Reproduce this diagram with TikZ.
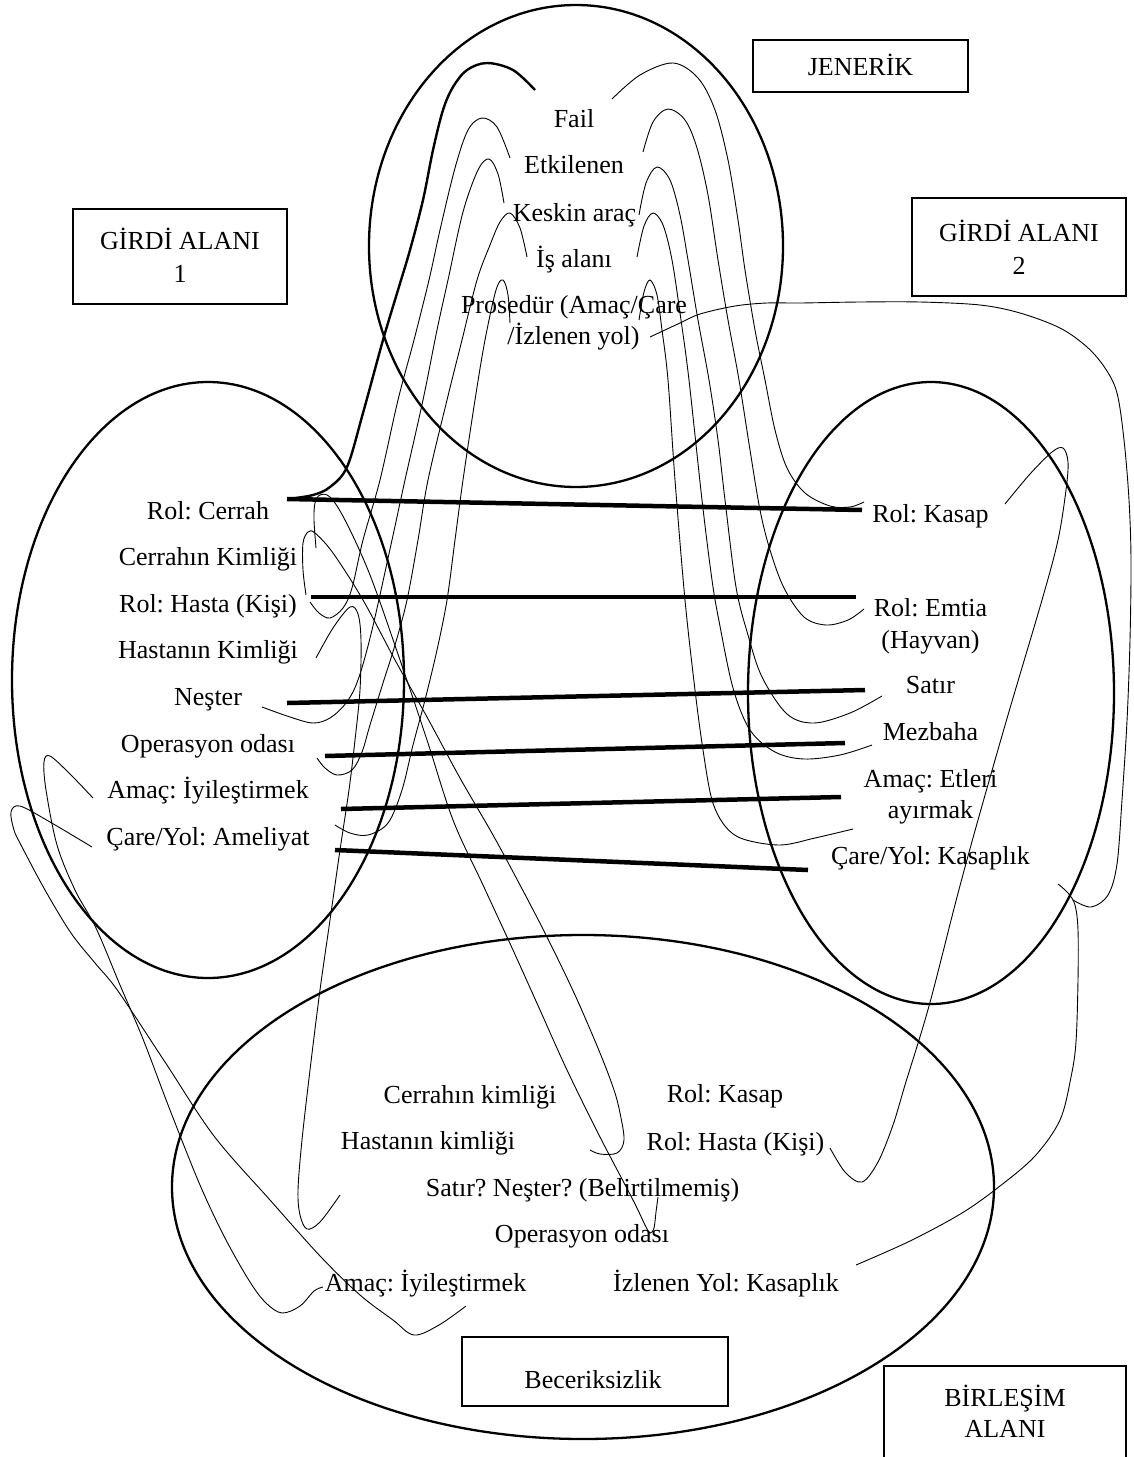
\documentclass[tikz,border=0pt]{standalone}
\usepackage{fontspec}
\setmainfont{Liberation Serif}
\frenchspacing
\begin{document}
\begin{tikzpicture}[x=1pt,y=-1pt,
  lbl/.style={anchor=base, inner sep=0pt, font=\fontsize{26}{31}\selectfont},
  frame/.style={draw, line width=2pt, inner sep=0pt},
  area/.style={line width=2.3pt},
  link/.style={line width=4.5pt},
  wire/.style={line width=0.9pt},
  boldwire/.style={line width=2.4pt},
  smoothpath/.style={smooth, tension=0.55}
]
\useasboundingbox (0,0) rectangle (1133,1457);

% ---------- the four mental spaces ----------
\draw[area] (576,246) ellipse [x radius=207pt, y radius=241pt];
\draw[area] (208,680) ellipse [x radius=196pt, y radius=298pt];
\draw[area] (931,693) ellipse [x radius=183pt, y radius=311pt];
\draw[area] (583,1187) ellipse [x radius=411pt, y radius=252pt];

% ---------- title boxes ----------
\node[frame, minimum width=215pt, minimum height=52pt] (jbox) at (860.5,66) {};
\node[frame, minimum width=214pt, minimum height=95pt] (g1box) at (180,256.5) {};
\node[frame, minimum width=214pt, minimum height=98pt] (g2box) at (1019,247) {};
\node[frame, minimum width=266pt, minimum height=69pt] (bbox) at (595,1371.5) {};
\coordinate (bl) at (884,1457);
\coordinate (br) at (1126,1457);
\draw[line width=2pt] (bl) |- (br |- 0,1366) -- (br);

\node[lbl] (jt) at (860.5,75) {JENERİK};
\node[lbl] (g1a) at (180,249) {GİRDİ ALANI};
\node[lbl] (g1b) at (180,282) {1};
\node[lbl] (g2a) at (1019,241) {GİRDİ ALANI};
\node[lbl] (g2b) at (1019,274) {2};
\node[lbl] (bt) at (593,1388) {Beceriksizlik};
\node[lbl] (ba) at (1005,1406) {BİRLEŞİM};
\node[lbl] (bb) at (1005,1437) {ALANI};

% ---------- generic space ----------
\node[lbl] (gfail) at (574,127) {Fail};
\node[lbl] (getk) at (574,173.5) {Etkilenen};
\node[lbl] (gkes) at (574.5,221) {Keskin araç};
\node[lbl] (gis) at (574,267) {İş alanı};
\node[lbl] (gpro) at (574,313) {Prosedür (Amaç/Çare};
\node[lbl] (gpro2) at (573.5,344) {/İzlenen yol)};

% ---------- input space 1 ----------
\node[lbl] (lrol) at (208,519) {Rol: Cerrah};
\node[lbl] (lcki) at (208,565) {Cerrahın Kimliği};
\node[lbl] (lhas) at (208,612) {Rol: Hasta (Kişi)};
\node[lbl] (lhki) at (208,658) {Hastanın Kimliği};
\node[lbl] (lnes) at (208,705) {Neşter};
\node[lbl] (lope) at (208,752) {Operasyon odası};
\node[lbl] (lama) at (208,798) {Amaç: İyileştirmek};
\node[lbl] (lcar) at (208,845) {Çare/Yol: Ameliyat};

% ---------- input space 2 ----------
\node[lbl] (rkas) at (930.5,522) {Rol: Kasap};
\node[lbl] (remt) at (930.5,616) {Rol: Emtia};
\node[lbl] (remt2) at (930.5,648) {(Hayvan)};
\node[lbl] (rsat) at (930.5,693) {Satır};
\node[lbl] (rmez) at (930.5,740) {Mezbaha};
\node[lbl] (rama) at (930.5,787) {Amaç: Etleri};
\node[lbl] (rama2) at (930.5,818) {ayırmak};
\node[lbl] (rcar) at (930.5,864) {Çare/Yol: Kasaplık};

% ---------- blended space ----------
\node[lbl] (bcki) at (470,1103) {Cerrahın kimliği};
\node[lbl] (bkas) at (725,1102) {Rol: Kasap};
\node[lbl] (bhki) at (428,1149) {Hastanın kimliği};
\node[lbl] (bhas) at (735.5,1150) {Rol: Hasta (Kişi)};
\node[lbl] (bsat) at (582.5,1196) {Satır? Neşter? (Belirtilmemiş)};
\node[lbl] (bope) at (582,1242) {Operasyon odası};
\node[lbl] (bama) at (425.5,1291) {Amaç: İyileştirmek};
\node[lbl] (bizl) at (726,1291) {İzlenen Yol: Kasaplık};

% ---------- cross-space counterpart links ----------
\coordinate (h1a) at (287,499); \coordinate (h1b) at (862,510);
\coordinate (h2a) at (311,597); \coordinate (h2b) at (856,597);
\coordinate (h3a) at (287,703); \coordinate (h3b) at (865,690);
\coordinate (h4a) at (325,756); \coordinate (h4b) at (845,743);
\coordinate (h5a) at (341,809); \coordinate (h5b) at (841,797);
\coordinate (h6a) at (335,850); \coordinate (h6b) at (808,870);
\draw[link] (h1a) -- (h1b);
\draw[link] (h2a) -- (h2b);
\draw[link] (h3a) -- (h3b);
\draw[link] (h4a) -- (h4b);
\draw[link] (h5a) -- (h5b);
\draw[link] (h6a) -- (h6b);

% ---------- generic -> input 1 ----------
\draw[boldwire] plot[smoothpath] coordinates {(535,90) (513,70) (487,63) (467,70) (453,87) (443,110) (433,150) (423,200) (410,250) (398,290) (383,340) (363,413) (347,467) (330,487) (313,495) (288,499)};
\draw[wire] plot[smoothpath] coordinates {(510,158) (497,127) (482,118) (468,130) (455,168) (440,230) (429,280) (414,340) (398,400) (380,480) (363,540) (352,588) (343,608) (330,618) (319,613) (310,602)};
\draw[wire] plot[smoothpath] coordinates {(504,203) (498,174) (489,159) (478,170) (463,212) (448,280) (437,330) (423,400) (405,480) (392,540) (372,630) (358,680) (346,703) (330,718) (313,723) (290,717) (262,707)};
\draw[wire] plot[smoothpath] coordinates {(527,257) (520,228) (510,213) (500,222) (490,245) (477,280) (462,340) (447,400) (428,480) (418,540) (407,600) (395,645) (383,683) (370,725) (362,752) (352,770) (337,775) (325,768) (317,758)};
\draw[wire] plot[smoothpath] coordinates {(510,323) (508,295) (503,280) (496,290) (485,340) (475,400) (463,480) (455,540) (447,600) (437,650) (425,700) (413,745) (402,790) (388,823) (368,835) (350,833) (335,825)};

% ---------- generic -> input 2 ----------
\draw[wire] plot[smoothpath] coordinates {(612,99) (640,75) (673,63) (698,78) (715,110) (728,160) (738,220) (745,270) (755,330) (765,380) (775,430) (787,468) (805,493) (830,506) (850,507) (864,502)};
\draw[wire] plot[smoothpath] coordinates {(643,152) (653,122) (668,109) (685,120) (697,148) (708,195) (718,260) (728,320) (739,380) (750,450) (760,510) (770,550) (784,588) (804,617) (826,625) (848,620) (864,609)};
\draw[wire] plot[smoothpath] coordinates {(639,215) (646,183) (657,167) (670,180) (680,215) (688,260) (698,320) (709,380) (718,440) (725,500) (736,587) (748,635) (762,677) (787,714) (814,723) (850,713) (882,696)};
\draw[wire] plot[smoothpath] coordinates {(637,257) (644,226) (653,213) (663,225) (672,260) (681,320) (689,380) (702,500) (712,580) (719,621) (733,688) (750,730) (775,752) (804,759) (840,755) (872,745)};
\draw[wire] plot[smoothpath] coordinates {(639,320) (644,292) (650,280) (657,295) (662,330) (668,380) (675,480) (685,600) (695,690) (703,750) (712,800) (725,826) (743,839) (780,845) (815,838) (853,829)};

% procedure loop round the right-hand space
\draw[wire] plot[smoothpath] coordinates {(650,337) (680,323) (700,314) (735,306) (767,303) (800,303) (860,302) (920,302) (980,305) (1020,313) (1060,328) (1087,347) (1105,368) (1117,393) (1124,440) (1129,500) (1131,560) (1130,640) (1127,721) (1122,800) (1117,864) (1108,895) (1091,907) (1073,900)};

% ---------- input 2 -> blend ----------
\draw[wire] plot[smoothpath] coordinates {(1058,884) (1068,893) (1075,905) (1078,930) (1078,980) (1076,1042) (1071,1077) (1060,1120) (1035,1156) (1000,1186) (962,1213) (910,1241) (856,1265)};
\draw[wire] plot[smoothpath] coordinates {(1005,504) (1030,474) (1052,452) (1063,448) (1068,462) (1066,490) (1058,540) (1042,600) (1008,715) (978,820) (957,897) (929,1006) (905,1085) (893,1125) (878,1162) (862,1182) (845,1172) (830,1148)};

% ---------- input 1 -> blend ----------
\draw[wire] plot[smoothpath] coordinates {(316,658) (333,628) (350,607) (358,614) (361,640) (360,690) (355,740) (349,790) (340,850) (330,920) (320,990) (310,1070) (302,1140) (298,1190) (300,1215) (307,1229) (320,1222) (340,1195)};
\draw[wire] plot[smoothpath] coordinates {(93,798) (70,774) (50,756) (44,762) (46,790) (57,845) (75,890) (96,928) (120,985) (143,1039) (170,1110) (200,1185) (225,1238) (250,1282) (266,1303) (282,1313) (300,1306) (314,1291) (323,1287)};
\draw[wire] plot[smoothpath] coordinates {(92,847) (50,822) (20,806) (11,812) (14,830) (21,845) (45,890) (71,933) (95,963) (118,991) (165,1062) (214,1136) (270,1200) (321,1257) (360,1295) (393,1320) (414,1335) (439,1325) (466,1306)};
\draw[wire] plot[smoothpath] coordinates {(316,548) (314,520) (315,503) (320,495) (330,497) (345,520) (370,575) (400,660) (427,740) (453,820) (483,885) (513,950) (540,1010) (567,1070) (600,1137) (633,1200) (645,1225) (650,1233) (654,1228) (656,1212) (658,1197)};
\draw[wire] plot[smoothpath] coordinates {(306,595) (303,570) (303,543) (308,532) (315,533) (333,553) (363,600) (395,660) (427,717) (460,778) (493,835) (520,885) (547,937) (575,995) (600,1053) (614,1090) (620,1113) (624,1140) (617,1153) (600,1154) (590,1150)};

\end{tikzpicture}
\end{document}
